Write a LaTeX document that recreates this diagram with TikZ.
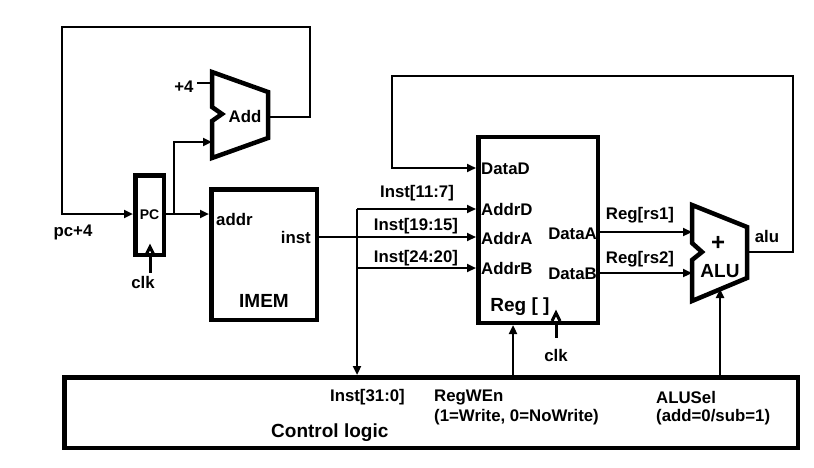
\documentclass[tikz,border=0pt]{standalone}
\usepackage{fontspec}
\setmainfont{Liberation Sans}
\usetikzlibrary{arrows.meta}

\begin{document}
\begin{tikzpicture}[
    x=1pt, y=-1pt,
    font=\fontsize{16.8}{18}\selectfont\bfseries,
    every node/.style={inner sep=0pt},
    block/.style={draw, line width=4.5pt},
    unit/.style={draw, line width=4.5pt, miter limit=20},
    wire/.style={line width=2.8pt},
    clock/.style={line width=3pt},
    big/.style={font=\fontsize{19}{20}\selectfont\bfseries},
    >={Triangle[length=9pt, width=8pt]}
]
   \useasboundingbox (0,0) rectangle (814,468);

   % Blocks
   \node[block, minimum width=28.5pt, minimum height=79.5pt, font=\fontsize{14}{16}\selectfont\bfseries] (pc) at (149.5,215) {PC};
   \node[block, minimum width=105.5pt, minimum height=130.5pt] (imem) at (264,254.5) {};
   \node[block, minimum width=119.5pt, minimum height=185.5pt] (reg) at (538,230) {};
   \node[block, minimum width=733.5pt, minimum height=70.5pt] (ctrl) at (431,412.5) {};

   % Adder and ALU
   \draw[unit] (212,72) -- (268,92) -- (268,138) -- (212,158) -- (212,121) -- (222,114) -- (212,107) -- cycle;
   \draw[unit] (692,205) -- (747,227) -- (747,278) -- (692,301) -- (692,260) -- (702,252) -- (692,243) -- cycle;
   \node (add) at (245,116) {Add};
   \node[font=\fontsize{24}{24}\selectfont\bfseries] (plus) at (718,243) {+};
   \node[big] (alu) at (720,271) {ALU};

   % Ports
   \coordinate (addout) at (268,117);
   \coordinate (addina) at (212,83);
   \coordinate (addinb) at (212,142);
   \coordinate (aluout) at (747,252);
   \coordinate (aluina) at (692,232);
   \coordinate (aluinb) at (692,273);
   \coordinate (alusel) at (720,289);
   \coordinate (bus) at (357,209);

   % Labels
   \node (pcnext) at (73,232) {pc+4};
   \node (pcclk) at (143,282) {clk};
   \node (four) at (184,87) {+4};
   \node[anchor=west] (addr) at (216,219) {addr};
   \node[anchor=east] (inst) at (311,237) {inst};
   \node[big] (imemlbl) at (264,301) {IMEM};
   \node (rd) at (417,193) {Inst[11:7]};
   \node (rs1) at (416,226) {Inst[19:15]};
   \node (rs2) at (416,258) {Inst[24:20]};
   \node[anchor=west] (datad) at (481,169) {DataD};
   \node[anchor=west] (addrd) at (481,209) {AddrD};
   \node[anchor=west] (addra) at (481,238) {AddrA};
   \node[anchor=west] (addrb) at (481,268) {AddrB};
   \node[anchor=east] (dataa) at (597,234) {DataA};
   \node[anchor=east] (datab) at (597,274) {DataB};
   \node[big] (reglbl) at (520,307) {Reg [ ]};
   \node (regclk) at (556,355) {clk};
   \node (rega) at (640,215) {Reg[rs1]};
   \node (regb) at (640,259) {Reg[rs2]};
   \node (alulbl) at (767,236) {alu};
   \node[anchor=east] (install) at (405,397) {Inst[31:0]};
   \node[anchor=west] (regwen) at (434,397) {RegWEn};
   \node[anchor=west] (regwenv) at (434,417) {(1=Write, 0=NoWrite)};
   \node[anchor=west] (aluselt) at (656,397) {ALUSel};
   \node[anchor=west] (aluselv) at (656,417) {(add=0/sub=1)};
   \node[big, anchor=west] (ctrllbl) at (271,433) {Control logic};

   % Clock inputs
   \draw[clock] (146,255) -- (150,247) -- (154,255);
   \draw[clock] (150,257) -- (150,273);
   \draw[clock] (552,321) -- (556,313) -- (560,321);
   \draw[clock] (556,325) -- (556,338);

   % Wires
   \draw[wire, ->] (addout) -- (310,117) |- (62,27) |- (pc.west |- 0,214);
   \draw[wire] (four.east) ++(3,-4) -- (addina);
   \draw[wire, ->] (pc.east |- 0,214) -- (imem.west |- 0,214);
   \draw[wire, ->] (174,214) |- (addinb);
   \draw[wire] (imem.east |- 0,237) -- (357,237);
   \draw[wire, ->] (bus) -- (ctrl.north -| bus);
   \draw[wire, ->] (bus) -- (reg.west |- bus);
   \draw[wire, ->] (357,237) -- (reg.west |- 0,237);
   \draw[wire, ->] (357,268) -- (reg.west |- 0,268);
   \draw[wire, ->] (aluout) -- (793,252) |- (392,76) |- (reg.west |- 0,168);
   \draw[wire, ->] (reg.east |- aluina) -- (aluina);
   \draw[wire, ->] (reg.east |- aluinb) -- (aluinb);
   \draw[wire, ->] (ctrl.north -| 513,0) -- (reg.south -| 513,0);
   \draw[wire, ->] (ctrl.north -| alusel) -- (alusel);

\end{tikzpicture}
\end{document}
